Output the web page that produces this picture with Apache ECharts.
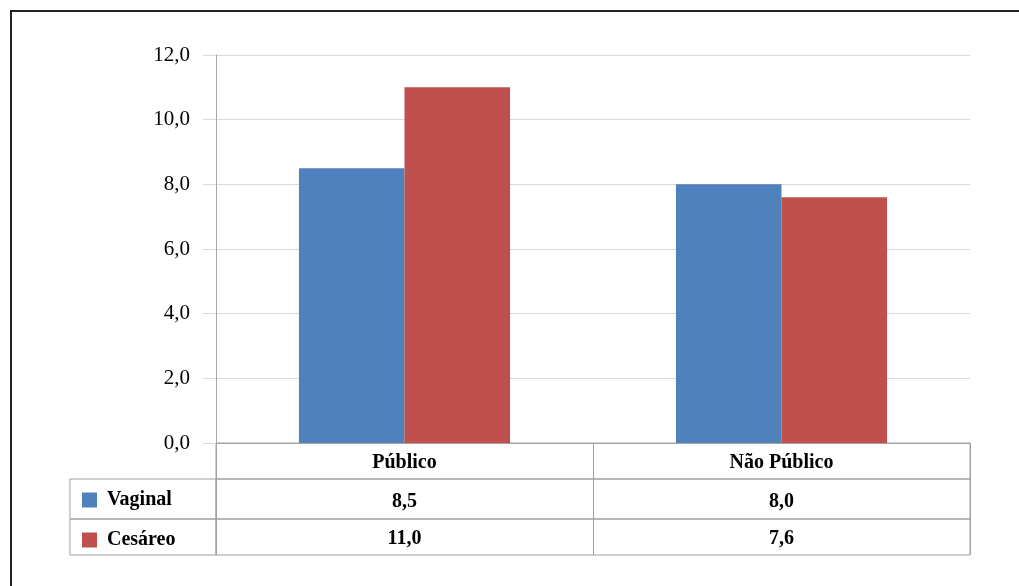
<!DOCTYPE html>
<html>
<head>
<meta charset="utf-8">
<script src="https://cdn.jsdelivr.net/npm/echarts@6/dist/echarts.min.js"></script>
<style>
  html, body { margin: 0; padding: 0; background: #fff; }
  #chart { width: 1019px; height: 586px; }
</style>
</head>
<body>
<div id="chart"></div>
<script>
// Categories and series values
const categories = ['Público', 'Não Público'];
const vaginal = [8.5, 8.0];
const cesareo = [11.0, 7.6];
const seriesNames = ['Vaginal', 'Cesáreo'];
const seriesColors = ['#4f81bd', '#c0504d'];

const FONT = '"Liberation Serif", "Times New Roman", serif';
const GRID_LINE = '#d9d9d9';
const AXIS_LINE = '#a6a6a6';
const TABLE_LINE = '#a0a0a0';

const fmt = v => v.toFixed(1).replace('.', ',');

const plotLeft = 216, plotWidth = 754;
const plotTop = 55, plotBottom = 443;
const headerH = 36, row1H = 40, row2H = 36;
const labelColLeft = 70;

const row1Top = plotBottom + headerH;
const row2Top = row1Top + row1H;

// category axis used by each table row, drawing the column dividers and cell texts
function tableXAxis(gridIndex, labels) {
  return {
    type: 'category', gridIndex, data: categories,
    axisLine: { show: false }, axisTick: { show: false },
    splitLine: { show: true, interval: 0, lineStyle: { color: TABLE_LINE, width: 1 } },
    axisLabel: labels ? {
      show: true, interval: 0, margin: labels.margin, verticalAlign: 'middle',
      color: '#000', fontFamily: FONT, fontSize: 20, fontWeight: 'bold',
      formatter: labels.formatter
    } : { show: false }
  };
}
function hiddenY(gridIndex) {
  return { type: 'value', gridIndex, show: false, min: 0, max: 1 };
}
function hiddenX(gridIndex) {
  return { type: 'value', gridIndex, show: false, min: 0, max: 1 };
}

const chart = echarts.init(document.getElementById('chart'), null, { renderer: 'canvas' });

chart.setOption({
  backgroundColor: '#fff',
  animation: false,
  grid: [
    { left: plotLeft, top: plotTop, width: plotWidth, height: plotBottom - plotTop },
    { left: plotLeft, top: plotBottom, width: plotWidth, height: headerH,
      show: true, borderColor: TABLE_LINE, borderWidth: 1 },
    { left: plotLeft, top: row1Top, width: plotWidth, height: row1H,
      show: true, borderColor: TABLE_LINE, borderWidth: 1 },
    { left: plotLeft, top: row2Top, width: plotWidth, height: row2H,
      show: true, borderColor: TABLE_LINE, borderWidth: 1 },
    { left: labelColLeft, top: row1Top, width: plotLeft - labelColLeft, height: row1H,
      show: true, borderColor: TABLE_LINE, borderWidth: 1 },
    { left: labelColLeft, top: row2Top, width: plotLeft - labelColLeft, height: row2H,
      show: true, borderColor: TABLE_LINE, borderWidth: 1 }
  ],
  legend: {
    data: seriesNames,
    orient: 'vertical',
    left: 77, top: 485,
    itemWidth: 15, itemHeight: 15, itemGap: 20,
    icon: 'rect',
    selectedMode: false,
    textStyle: { color: '#000', fontFamily: FONT, fontSize: 20, fontWeight: 'bold',
      padding: [0, 0, 0, 5] }
  },
  xAxis: [
    {
      type: 'category', gridIndex: 0, data: categories,
      axisLine: { show: true, lineStyle: { color: AXIS_LINE } },
      axisTick: { show: false },
      axisLabel: { interval: 0, margin: headerH / 2 + 2, verticalAlign: 'middle',
        color: '#000', fontFamily: FONT, fontSize: 20, fontWeight: 'bold' }
    },
    tableXAxis(1, null),
    tableXAxis(2, { margin: -row1H / 2 + 3, formatter: (v, i) => fmt(vaginal[i]) }),
    tableXAxis(3, { margin: -row2H / 2 + 2, formatter: (v, i) => fmt(cesareo[i]) }),
    hiddenX(4),
    hiddenX(5)
  ],
  yAxis: [
    {
      type: 'value', gridIndex: 0, min: 0, max: 12, interval: 2,
      axisLine: { show: true, lineStyle: { color: AXIS_LINE } },
      axisTick: { show: true, length: 13, lineStyle: { color: GRID_LINE } },
      splitLine: { show: true, lineStyle: { color: GRID_LINE } },
      axisLabel: { margin: 26, color: '#000', fontFamily: FONT, fontSize: 21,
        formatter: v => fmt(v) }
    },
    hiddenY(1), hiddenY(2), hiddenY(3), hiddenY(4), hiddenY(5)
  ],
  series: [
    { name: seriesNames[0], type: 'bar', xAxisIndex: 0, yAxisIndex: 0,
      data: vaginal, itemStyle: { color: seriesColors[0] },
      barGap: '0%', barCategoryGap: '44%' },
    { name: seriesNames[1], type: 'bar', xAxisIndex: 0, yAxisIndex: 0,
      data: cesareo, itemStyle: { color: seriesColors[1] },
      barGap: '0%', barCategoryGap: '44%' }
  ],
  graphic: [
    // outer chart frame
    { type: 'rect', shape: { x: 11, y: 11, width: 1100, height: 700 },
      style: { fill: 'none', stroke: '#222', lineWidth: 2 }, z: 100 }
  ]
});
</script>
</body>
</html>
